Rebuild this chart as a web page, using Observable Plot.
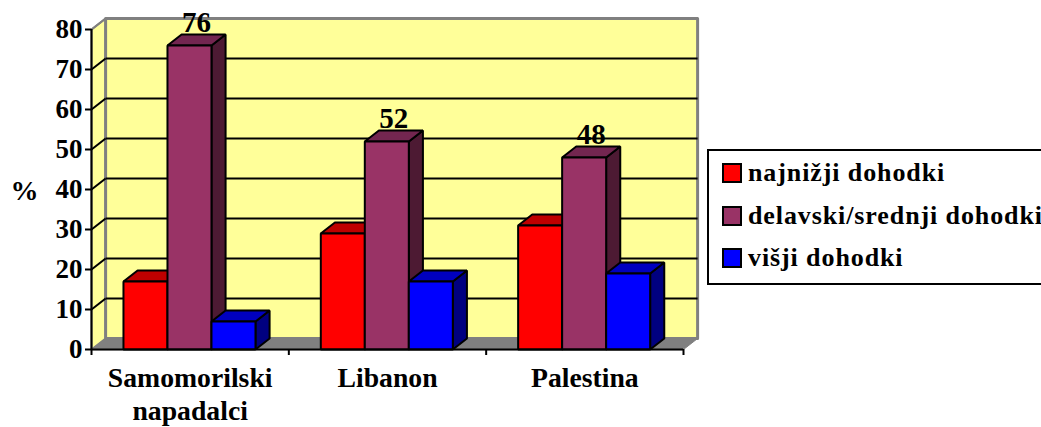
<!DOCTYPE html>
<html>
<head>
<meta charset="utf-8">
<script src="https://cdn.jsdelivr.net/npm/d3@7"></script>
<script src="https://cdn.jsdelivr.net/npm/@observablehq/plot@0.6"></script>
<style>
html,body{margin:0;padding:0;background:#fff;overflow:hidden;}
#chart{position:relative;width:1041px;height:427px;font-family:"Liberation Serif",serif;}
#chart svg{position:absolute;left:0;top:0;}
.legend{position:absolute;left:707px;top:149px;width:360px;height:132px;border:2px solid #000;background:#fff;box-sizing:content-box;font-weight:bold;font-size:26px;letter-spacing:0.9px;color:#000;}
.row{position:absolute;left:13px;display:flex;align-items:center;height:21px;white-space:nowrap;}
.sw{width:16px;height:16px;border:2px solid #000;margin-right:6px;flex:none;}
</style>
</head>
<body>
<div id="chart"></div>
<script>
const categories = ["Samomorilski\nnapadalci", "Libanon", "Palestina"];
const seriesNames = ["najnižji dohodki", "delavski/srednji dohodki", "višji dohodki"];
const lowest = [17, 29, 31];
const middle = [76, 52, 48];
const higher = [7, 17, 19];
const yTicks = [0, 10, 20, 30, 40, 50, 60, 70, 80];
const frontColors = ["#ff0000", "#993366", "#0000ff"];
const topColors = ["#bf0000", "#732650", "#0000bf"];
const sideColors = ["#800000", "#4d1a33", "#000080"];
const wallColor = "#ffff99";
const floorColor = "#808080";

// depth of the pseudo-3D box, and bar layout, in data units
const dx = 0.0715, dy = 2.75;
const barStart = 0.162, barWidth = 0.223;

const poly = [];
const addPoly = (id, fill, pts) => pts.forEach(([x, y]) => poly.push({id, fill, x, y}));
categories.forEach((c, i) => {
  [lowest, middle, higher].forEach((vals, s) => {
    const x0 = i + barStart + s * barWidth, x1 = x0 + barWidth, v = vals[i];
    addPoly(`${i}-${s}-side`, sideColors[s], [[x1, 0], [x1 + dx, dy], [x1 + dx, v + dy], [x1, v]]);
    addPoly(`${i}-${s}-top`, topColors[s], [[x0, v], [x0 + dx, v + dy], [x1 + dx, v + dy], [x1, v]]);
    addPoly(`${i}-${s}-front`, frontColors[s], [[x0, 0], [x1, 0], [x1, v], [x0, v]]);
  });
});
const backWall = [[dx, dy], [dx, 80 + dy], [3 + dx, 80 + dy], [3 + dx, dy]].map(([x, y]) => ({x, y}));
const leftWall = [[0, 0], [0, 80], [dx, 80 + dy], [dx, dy]].map(([x, y]) => ({x, y}));
const floor = [[0, 0], [dx, dy], [3 + dx, dy], [3, 0]].map(([x, y]) => ({x, y}));
const grid = yTicks.filter(v => v > 0 && v < 80);
const labels = middle.map((v, i) => ({i, v, x: i + barStart + barWidth * 1.5 + dx / 2, y: v + dy}));

const fam = "Liberation Serif";
const plot = Plot.plot({
  width: 1041, height: 427,
  marginLeft: 91, marginRight: 358, marginTop: 29, marginBottom: 78,
  x: {domain: [0, 3]},
  y: {domain: [0, 80]},
  color: {type: "identity"},
  style: {fontFamily: fam, fontWeight: "bold", background: "transparent", color: "#000", overflow: "visible"},
  marks: [
    Plot.line(leftWall, {x: "x", y: "y", curve: "linear-closed", fill: wallColor, stroke: floorColor, strokeWidth: 2}),
    Plot.line(backWall, {x: "x", y: "y", curve: "linear-closed", fill: wallColor, stroke: floorColor, strokeWidth: 3}),
    Plot.line(floor, {x: "x", y: "y", curve: "linear-closed", fill: floorColor, stroke: floorColor, strokeWidth: 1}),
    Plot.link(grid, {x1: dx, x2: 3 + dx, y1: v => v + dy, y2: v => v + dy, stroke: "#000", strokeWidth: 2}),
    Plot.link(grid, {x1: 0, x2: dx, y1: v => v, y2: v => v + dy, stroke: "#000", strokeWidth: 2}),
    Plot.link([80], {x1: 0, x2: dx, y1: v => v, y2: v => v + dy, stroke: floorColor, strokeWidth: 2}),
    Plot.line(poly, {x: "x", y: "y", z: "id", fill: "fill", stroke: "#000", strokeWidth: 2, curve: "linear-closed", strokeLinejoin: "miter"}),
    Plot.ruleX([0], {y1: 0, y2: 80, stroke: "#000", strokeWidth: 2}),
    Plot.ruleY([0], {x1: 0, x2: 3, stroke: "#000", strokeWidth: 2}),
    Plot.axisY({ticks: yTicks, tickSize: 6, tickPadding: 3, strokeWidth: 2, label: null, fontSize: 27, fontWeight: "bold", fontFamily: fam, fill: "#000"}),
    Plot.axisX({ticks: [0, 1, 2, 3], tickSize: 6, strokeWidth: 2, tickFormat: () => "", label: null}),
    Plot.axisX({ticks: [0.5, 1.5, 2.5], tickSize: 0, tickPadding: 14, label: null, tickFormat: (d) => categories[Math.floor(d)], fontSize: 27.7, fontWeight: "bold", fontFamily: fam, fill: "#000", lineHeight: 1.19, textOverflow: null, lineAnchor: "top"}),
    Plot.text(labels, {x: "x", y: "y", text: d => String(d.v), lineAnchor: "bottom", fontSize: 29, fontWeight: "bold", fontFamily: fam, fill: "#000", dy: -3}),
    Plot.text(["%"], {frameAnchor: "left", dx: -67, dy: 2, textAnchor: "middle", fontSize: 28, fontWeight: "bold", fontFamily: fam, fill: "#000"})
  ]
});
const host = document.getElementById("chart");
host.appendChild(plot);

const legend = document.createElement("div");
legend.className = "legend";
const tops = [11, 54, 96];
seriesNames.forEach((name, i) => {
  const row = document.createElement("div");
  row.className = "row";
  row.style.top = tops[i] + "px";
  const sw = document.createElement("span");
  sw.className = "sw";
  sw.style.background = frontColors[i];
  row.appendChild(sw);
  row.appendChild(document.createTextNode(name));
  legend.appendChild(row);
});
host.appendChild(legend);
</script>
</body>
</html>
